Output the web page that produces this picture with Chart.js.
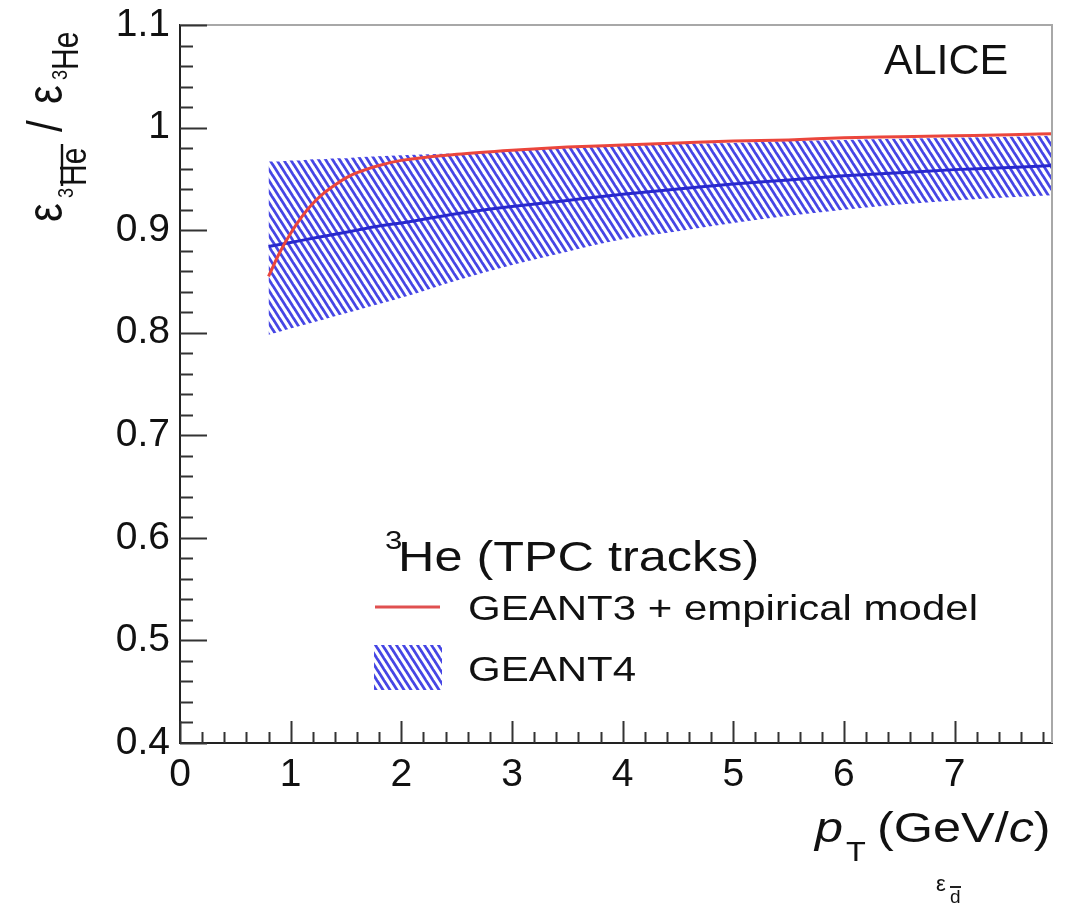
<!DOCTYPE html>
<html>
<head>
<meta charset="utf-8">
<script src="https://cdn.jsdelivr.net/npm/chart.js@4.4.1/dist/chart.umd.min.js"></script>
<style>
  html, body { margin: 0; padding: 0; background: #fff; }
  #wrap { width: 1068px; height: 904px; position: relative; }
</style>
</head>
<body>
<div id="wrap"><canvas id="myChart"></canvas></div>
<script>
const ptValues = [0.8, 0.9, 1.0, 1.1, 1.2, 1.3, 1.4, 1.5, 1.6, 1.8, 2.0, 2.5, 3.0, 3.5, 4.0, 4.5, 5.0, 5.5, 6.0, 6.5, 7.0, 7.5, 7.88];

// GEANT3 + empirical model (red)
const geant3 = [0.855, 0.878, 0.897, 0.913, 0.926, 0.936, 0.944, 0.951, 0.956, 0.963, 0.968, 0.974, 0.978, 0.981, 0.983, 0.985, 0.987, 0.988, 0.990, 0.991, 0.992, 0.993, 0.994];

// GEANT4 central value and band
const geant4 = [0.884, 0.886, 0.888, 0.890, 0.892, 0.894, 0.896, 0.898, 0.900, 0.904, 0.907, 0.916, 0.923, 0.929, 0.935, 0.940, 0.945, 0.949, 0.953, 0.956, 0.959, 0.961, 0.963];
const geant4Upper = [0.967, 0.967, 0.968, 0.968, 0.969, 0.969, 0.970, 0.970, 0.971, 0.972, 0.973, 0.975, 0.978, 0.980, 0.982, 0.984, 0.985, 0.987, 0.988, 0.989, 0.990, 0.991, 0.992];
const geant4Lower = [0.798, 0.801, 0.804, 0.807, 0.810, 0.813, 0.816, 0.819, 0.822, 0.828, 0.834, 0.851, 0.866, 0.879, 0.891, 0.899, 0.907, 0.914, 0.920, 0.925, 0.929, 0.932, 0.934];

const xTicks = [0, 1, 2, 3, 4, 5, 6, 7];
const yTicks = [0.4, 0.5, 0.6, 0.7, 0.8, 0.9, 1.0, 1.1];

const FONT = "'Liberation Sans', Arial, Helvetica, sans-serif";
const SX = 1.2; // the picture is a bit wider than tall

const toPts = (ys) => ptValues.map((x, i) => ({ x: x, y: ys[i] }));

function makeHatch(color) {
  const w = 7, h = 11;
  const c = document.createElement("canvas");
  c.width = w;
  c.height = h;
  const g = c.getContext("2d");
  g.strokeStyle = color;
  g.lineWidth = 2.8;
  for (const k of [-2, -1, 0, 1, 2]) {
    g.beginPath();
    g.moveTo(k * w - w, -h);
    g.lineTo(k * w + 2 * w, 2 * h);
    g.stroke();
  }
  return g.createPattern(c, "repeat");
}
const hatch = makeHatch("rgba(50,50,225,0.9)");

function txt(ctx, s, x, y, size, opts) {
  opts = opts || {};
  ctx.save();
  ctx.translate(x, y);
  ctx.scale(opts.sx || SX, 1);
  ctx.font = (opts.italic ? "italic " : "") + size + "px " + FONT;
  ctx.fillStyle = "#111";
  ctx.textBaseline = "alphabetic";
  ctx.fillText(s, 0, 0);
  const w = ctx.measureText(s).width * (opts.sx || SX);
  ctx.restore();
  return w;
}

// ROOT-like frame, inner ticks, labels and legend
const rootStyle = {
  id: "rootStyle",
  afterDraw(chart) {
    const ctx = chart.ctx;
    const a = chart.chartArea;
    const xs = chart.scales.x, ys = chart.scales.y;

    // frame (top and right)
    ctx.save();
    ctx.strokeStyle = "#a8a8a8";
    ctx.lineWidth = 2;
    ctx.beginPath();
    ctx.moveTo(a.left, a.top);
    ctx.lineTo(a.right, a.top);
    ctx.lineTo(a.right, a.bottom);
    ctx.stroke();

    // inner ticks
    ctx.strokeStyle = "#333";
    ctx.lineWidth = 2;
    ctx.beginPath();
    for (let i = 0; i * 0.2 <= xs.max + 1e-9; i++) {
      const px = Math.round(xs.getPixelForValue(i * 0.2)) + 0.5;
      const len = i % 5 === 0 ? 22 : 11;
      ctx.moveTo(px, a.bottom);
      ctx.lineTo(px, a.bottom - len);
    }
    for (let i = 0; 0.4 + i * 0.02 <= ys.max + 1e-9; i++) {
      const py = Math.round(ys.getPixelForValue(0.4 + i * 0.02)) + 0.5;
      const len = i % 5 === 0 ? 27 : 13;
      ctx.moveTo(a.left, py);
      ctx.lineTo(a.left + len, py);
    }
    ctx.stroke();
    ctx.restore();

    // ALICE
    txt(ctx, "ALICE", 884, 74, 43, { sx: 1 });

    // legend
    txt(ctx, "3", 385, 549, 26);
    txt(ctx, "He (TPC tracks)", 398, 571, 42);
    ctx.save();
    ctx.strokeStyle = "#e05050";
    ctx.lineWidth = 3;
    ctx.beginPath();
    ctx.moveTo(375, 607);
    ctx.lineTo(440, 607);
    ctx.stroke();
    ctx.fillStyle = hatch;
    ctx.fillRect(374, 645, 68, 45);
    ctx.restore();
    txt(ctx, "GEANT3 + empirical model", 468, 620, 35);
    txt(ctx, "GEANT4", 468, 681, 35);

    // x title
    let x = 815;
    txt(ctx, "p", x, 842, 42, { italic: true });
    txt(ctx, "T", 846, 861, 27);
    x = 877;
    x += txt(ctx, "(GeV/", x, 842, 42);
    x += txt(ctx, "c", x, 842, 42, { italic: true });
    txt(ctx, ")", x, 842, 42);

    // stray label under the axis title
    txt(ctx, "\u03b5", 936, 891, 22, { sx: 1 });
    txt(ctx, "d", 950, 903, 19, { sx: 1 });
    ctx.save();
    ctx.strokeStyle = "#222";
    ctx.lineWidth = 2;
    ctx.beginPath();
    ctx.moveTo(950, 887);
    ctx.lineTo(961, 887);
    ctx.stroke();
    ctx.restore();

    // y title (rotated)
    ctx.save();
    ctx.translate(62, 222);
    ctx.rotate(-Math.PI / 2);
    ctx.scale(1, 1.2);
    ctx.fillStyle = "#111";
    ctx.font = "42px " + FONT;
    ctx.fillText("\u03b5", 0, 0);
    ctx.font = "18px " + FONT;
    ctx.fillText("3", 24, 9);
    ctx.font = "30px " + FONT;
    ctx.fillText("He", 36, 20);
    ctx.lineWidth = 2;
    ctx.strokeStyle = "#111";
    ctx.beginPath();
    ctx.moveTo(36, 0);
    ctx.lineTo(78, 0);
    ctx.stroke();
    ctx.font = "42px " + FONT;
    ctx.fillText("/", 90, 0);
    ctx.fillText("\u03b5", 118, 0);
    ctx.font = "18px " + FONT;
    ctx.fillText("3", 142, 4);
    ctx.font = "30px " + FONT;
    ctx.fillText("He", 152, 13);
    ctx.restore();
  }
};

const ctx = document.getElementById("myChart");

new Chart(ctx, {
  type: "line",
  data: {
    datasets: [
      {
        label: "GEANT4 upper",
        data: toPts(geant4Upper),
        borderWidth: 0,
        pointRadius: 0,
        backgroundColor: hatch,
        fill: "+1",
        cubicInterpolationMode: "monotone",
        order: 3,
      },
      {
        label: "GEANT4 lower",
        data: toPts(geant4Lower),
        borderWidth: 0,
        pointRadius: 0,
        fill: false,
        cubicInterpolationMode: "monotone",
        order: 3,
      },
      {
        label: "GEANT4",
        data: toPts(geant4),
        borderColor: "rgb(40,40,205)",
        borderWidth: 3,
        pointRadius: 0,
        fill: false,
        cubicInterpolationMode: "monotone",
        order: 2,
      },
      {
        label: "GEANT3 + empirical model",
        data: toPts(geant3),
        borderColor: "rgb(235,70,60)",
        borderWidth: 3,
        pointRadius: 0,
        fill: false,
        cubicInterpolationMode: "monotone",
        order: 1,
      },
    ],
  },
  options: {
    responsive: true,
    maintainAspectRatio: false,
    animation: false,
    devicePixelRatio: 1,
    layout: { padding: { top: 25, right: 16, left: 0, bottom: 0 } },
    scales: {
      x: {
        type: "linear",
        min: 0,
        max: 7.88,
        afterBuildTicks: (s) => { s.ticks = xTicks.map((v) => ({ value: v })); },
        afterFit: (s) => { s.height = 161; s.paddingLeft = 0; s.paddingRight = 0; },
        grid: { drawOnChartArea: false, drawTicks: false },
        border: { display: true, color: "#222", width: 2 },
        ticks: {
          color: "#111",
          font: { family: FONT, size: 39 },
          padding: 9,
          maxRotation: 0,
          autoSkip: false,
          callback: (v) => String(v),
        },
      },
      y: {
        min: 0.4,
        max: 1.1,
        afterBuildTicks: (s) => { s.ticks = yTicks.map((v) => ({ value: v })); },
        afterFit: (s) => { s.width = 180; s.paddingTop = 0; s.paddingBottom = 0; },
        grid: { drawOnChartArea: false, drawTicks: false },
        border: { display: true, color: "#222", width: 2 },
        ticks: {
          color: "#111",
          font: { family: FONT, size: 39 },
          padding: 10,
          autoSkip: false,
          callback: (v) => String(+v.toFixed(2)),
        },
      },
    },
    plugins: {
      legend: { display: false },
      tooltip: { enabled: false },
    },
  },
  plugins: [rootStyle],
});
</script>
</body>
</html>
